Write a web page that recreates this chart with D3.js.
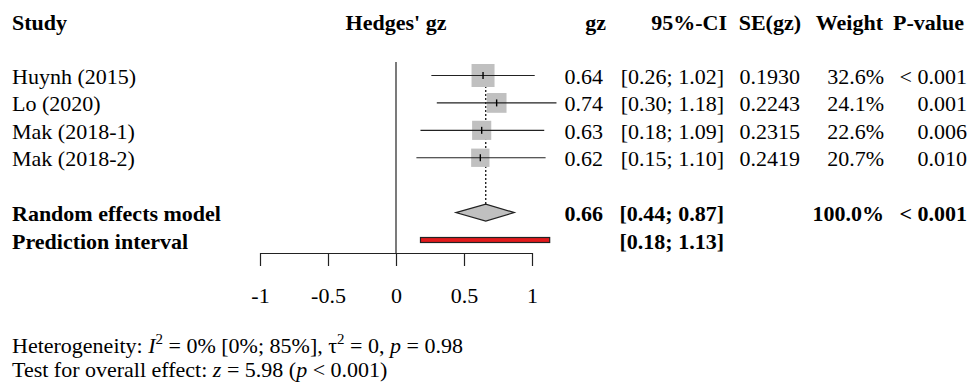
<!DOCTYPE html>
<html>
<head>
<meta charset="utf-8">
<script src="https://cdn.jsdelivr.net/npm/d3@7"></script>
<style>
  html, body { margin: 0; padding: 0; background: #fff; }
  svg { display: block; }
</style>
</head>
<body>
<div id="chart"></div>
<script>
// --- DATA ---
const studies = ["Huynh (2015)", "Lo (2020)", "Mak (2018-1)", "Mak (2018-2)"];
const gz = [0.64, 0.74, 0.63, 0.62];
const ciLower = [0.26, 0.30, 0.18, 0.15];
const ciUpper = [1.02, 1.18, 1.09, 1.10];
const seGz = ["0.1930", "0.2243", "0.2315", "0.2419"];
const weights = [32.6, 24.1, 22.6, 20.7];
const pValues = ["< 0.001", "0.001", "0.006", "0.010"];

const pooledEst = 0.66;
const pooledCI = [0.44, 0.87];
const predInterval = [0.18, 1.13];
const pooledWeight = "100.0%";
const pooledP = "< 0.001";

const axisTicks = [-1, -0.5, 0, 0.5, 1];

// --- LAYOUT ---
const WIDTH = 971;
const HEIGHT = 387;
const FONT = "'Liberation Serif', 'Times New Roman', serif";
const FS = 22;

const svg = d3.select("#chart")
    .append("svg")
    .attr("width", WIDTH)
    .attr("height", HEIGHT)
    .style("font-family", FONT)
    .style("font-size", FS + "px");

const x = d3.scaleLinear().domain([-1, 1]).range([260, 532]);
// row index -> y centre (0..3 studies, 5 pooled, 6 prediction)
const row = d3.scaleLinear().domain([0, 6]).range([75.5, 240]);
const size = d3.scaleSqrt().domain([0, d3.max(weights)]).range([0, 23]);
const BASE = 8.5; // text baseline below row centre

const headerY = 29.5;

// headers
const headers = [
    { t: "Study", x: 12, a: "start" },
    { t: "Hedges' gz", x: x(0), a: "middle" },
    { t: "gz", x: 606, a: "end" },
    { t: "95%-CI", x: 727, a: "end" },
    { t: "SE(gz)", x: 801, a: "end" },
    { t: "Weight", x: 883, a: "end" },
    { t: "P-value", x: 964, a: "end" }
];
svg.selectAll("text.hdr")
    .data(headers)
    .join("text")
    .attr("class", "hdr")
    .attr("x", d => d.x)
    .attr("y", headerY)
    .attr("text-anchor", d => d.a)
    .attr("font-weight", "bold")
    .text(d => d.t);

// zero line
svg.append("line")
    .attr("x1", x(0)).attr("x2", x(0))
    .attr("y1", 62).attr("y2", 253)
    .attr("stroke", "#222").attr("stroke-width", 1.2);

// pooled estimate dotted line
svg.append("line")
    .attr("x1", x(pooledEst)).attr("x2", x(pooledEst))
    .attr("y1", 66).attr("y2", row(5) - 8)
    .attr("stroke", "#000").attr("stroke-width", 1.2)
    .attr("stroke-dasharray", "2,2");

const idx = d3.range(studies.length);

// squares
svg.selectAll("rect.sq")
    .data(idx)
    .join("rect")
    .attr("class", "sq")
    .attr("x", i => x(gz[i]) - size(weights[i]) / 2)
    .attr("y", i => row(i) - size(weights[i]) / 2)
    .attr("width", i => size(weights[i]))
    .attr("height", i => size(weights[i]))
    .attr("fill", "#c0c0c0");

// CI lines
svg.selectAll("line.ci")
    .data(idx)
    .join("line")
    .attr("class", "ci")
    .attr("x1", i => x(ciLower[i]))
    .attr("x2", i => x(ciUpper[i]))
    .attr("y1", i => row(i))
    .attr("y2", i => row(i))
    .attr("stroke", "#222").attr("stroke-width", 1.2);

// estimate tick
svg.selectAll("line.est")
    .data(idx)
    .join("line")
    .attr("class", "est")
    .attr("x1", i => x(gz[i]))
    .attr("x2", i => x(gz[i]))
    .attr("y1", i => row(i) - 3.5)
    .attr("y2", i => row(i) + 3.5)
    .attr("stroke", "#000").attr("stroke-width", 1.4);

// diamond
const dy = row(5);
svg.append("path")
    .attr("d", `M${x(pooledCI[0])},${dy} L${x(pooledEst)},${dy - 8.5} L${x(pooledCI[1])},${dy} L${x(pooledEst)},${dy + 8.5} Z`)
    .attr("fill", "#c0c0c0")
    .attr("stroke", "#222").attr("stroke-width", 1.2);

// prediction interval bar
svg.append("rect")
    .attr("x", x(predInterval[0]))
    .attr("y", row(6) - 2.5)
    .attr("width", x(predInterval[1]) - x(predInterval[0]))
    .attr("height", 5)
    .attr("fill", "#e31a1c")
    .attr("stroke", "#222").attr("stroke-width", 1.2);

// axis
const axis = d3.axisBottom(x)
    .tickValues(axisTicks)
    .tickFormat(d => String(d))
    .tickSize(13)
    .tickSizeOuter(0)
    .tickPadding(21);

svg.append("g")
    .attr("transform", "translate(0,253)")
    .call(axis)
    .call(g => g.selectAll("path, line").attr("stroke", "#222").attr("stroke-width", 1.2))
    .call(g => g.selectAll("text")
        .attr("fill", "#000")
        .style("font-family", FONT)
        .style("font-size", FS + "px"));

// study text columns
const cols = [
    { v: i => studies[i], x: 12, a: "start" },
    { v: i => gz[i].toFixed(2), x: 603, a: "end" },
    { v: i => `[${ciLower[i].toFixed(2)}; ${ciUpper[i].toFixed(2)}]`, x: 724, a: "end" },
    { v: i => seGz[i], x: 800, a: "end" },
    { v: i => weights[i].toFixed(1) + "%", x: 884, a: "end" },
    { v: i => pValues[i], x: 967, a: "end" }
];
cols.forEach((c, k) => {
    svg.selectAll("text.col" + k)
        .data(idx)
        .join("text")
        .attr("class", "col" + k)
        .attr("x", c.x)
        .attr("y", i => row(i) + BASE)
        .attr("text-anchor", c.a)
        .text(c.v);
});

// pooled rows
const pooledTexts = [
    { t: "Random effects model", x: 12, a: "start", r: 5 },
    { t: pooledEst.toFixed(2), x: 603, a: "end", r: 5 },
    { t: `[${pooledCI[0].toFixed(2)}; ${pooledCI[1].toFixed(2)}]`, x: 724, a: "end", r: 5 },
    { t: pooledWeight, x: 884, a: "end", r: 5 },
    { t: pooledP, x: 967, a: "end", r: 5 },
    { t: "Prediction interval", x: 12, a: "start", r: 6 },
    { t: `[${predInterval[0].toFixed(2)}; ${predInterval[1].toFixed(2)}]`, x: 724, a: "end", r: 6 }
];
svg.selectAll("text.pooled")
    .data(pooledTexts)
    .join("text")
    .attr("class", "pooled")
    .attr("x", d => d.x)
    .attr("y", d => row(d.r) + BASE)
    .attr("text-anchor", d => d.a)
    .attr("font-weight", "bold")
    .text(d => d.t);

// footer
const f1 = svg.append("text").attr("x", 12).attr("y", 352.5);
f1.append("tspan").text("Heterogeneity: ");
f1.append("tspan").attr("font-style", "italic").text("I");
f1.append("tspan").attr("font-size", "15px").attr("dy", -9).text("2");
f1.append("tspan").attr("dy", 9).text(" = 0% [0%; 85%], \u03c4");
f1.append("tspan").attr("font-size", "15px").attr("dy", -9).text("2");
f1.append("tspan").attr("dy", 9).text(" = 0, ");
f1.append("tspan").attr("font-style", "italic").text("p");
f1.append("tspan").text(" = 0.98");

const f2 = svg.append("text").attr("x", 12).attr("y", 376.5);
f2.append("tspan").text("Test for overall effect: ");
f2.append("tspan").attr("font-style", "italic").text("z");
f2.append("tspan").text(" = 5.98 (");
f2.append("tspan").attr("font-style", "italic").text("p");
f2.append("tspan").text(" < 0.001)");
</script>
</body>
</html>
